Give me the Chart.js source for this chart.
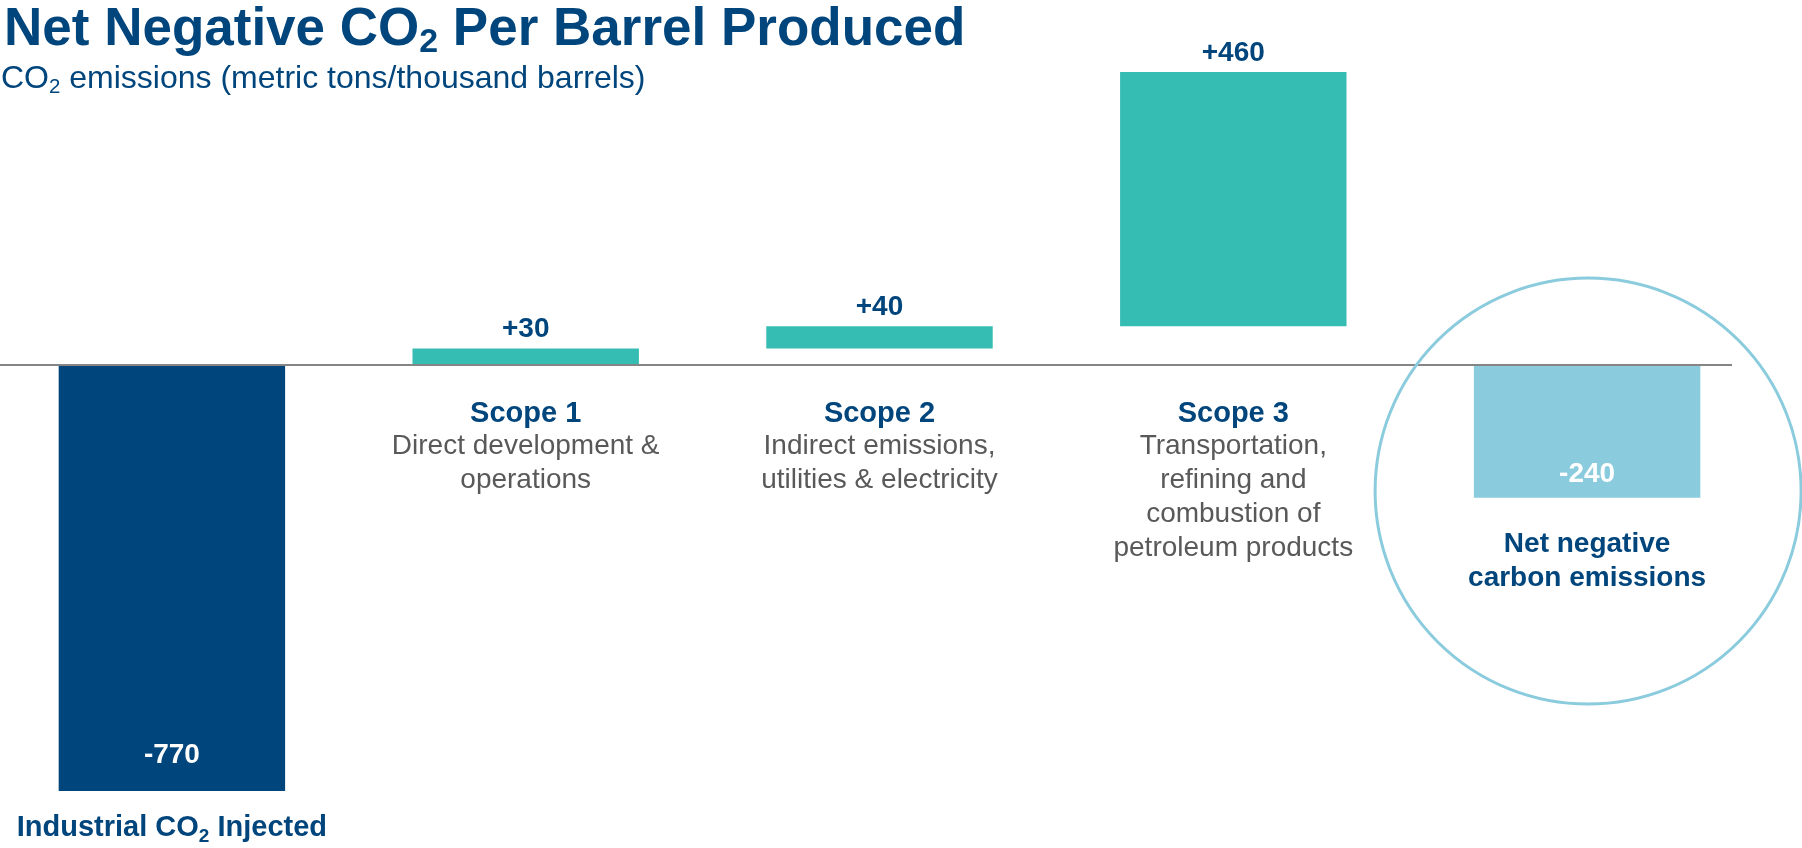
<!DOCTYPE html>
<html>
<head>
<meta charset="utf-8">
<script src="https://cdn.jsdelivr.net/npm/chart.js@4"></script>
<style>
  html, body { margin: 0; padding: 0; background: #fff; width: 1802px; height: 848px; overflow: hidden; position: relative; font-family: "Liberation Sans", Arial, sans-serif; }
  #title { position: absolute; left: 4px; top: 0; font-size: 53px; font-weight: bold; color: #00457c; line-height: 1; white-space: nowrap; }
  #subtitle { position: absolute; left: 1px; top: 61px; font-size: 32px; color: #00457c; line-height: 1; white-space: nowrap; }
  sub { font-size: 64%; vertical-align: -0.22em; line-height: 0; }
  #chart { position: absolute; left: -5px; top: 0; }
</style>
</head>
<body>
<canvas id="chart" width="1807" height="848"></canvas>
<div id="title">Net Negative CO<sub>2</sub> Per Barrel Produced</div>
<div id="subtitle">CO<sub>2</sub> emissions (metric tons/thousand barrels)</div>
<script>
const categories = ["Industrial CO₂ Injected", "Scope 1", "Scope 2", "Scope 3", "Net negative\ncarbon emissions"];
const changes = [-770, 30, 40, 460, -240];
const barStarts = [0, 0, 30, 70, 0];
const valueLabels = ["-770", "+30", "+40", "+460", "-240"];
const descriptions = [
  [],
  ["Direct development &", "operations"],
  ["Indirect emissions,", "utilities & electricity"],
  ["Transportation,", "refining and", "combustion of", "petroleum products"],
  []
];
const barColors = ["#00457c", "#36bdb3", "#36bdb3", "#36bdb3", "#8acbdd"];

const DARK = "#00457c";
const GREY = "#595959";
const FONT = '"Liberation Sans", Arial, sans-serif';

// draw text centred at x, with "₂" rendered as a real subscript
function drawRich(ctx, text, x, y, size) {
  const parts = text.split("₂");
  const subSize = Math.round(size * 0.66);
  const widths = parts.map(p => { ctx.font = "bold " + size + "px " + FONT; return ctx.measureText(p).width; });
  ctx.font = "bold " + subSize + "px " + FONT;
  const subW = ctx.measureText("2").width;
  const total = widths.reduce((a, b) => a + b, 0) + subW * (parts.length - 1);
  let cx = x - total / 2;
  ctx.textAlign = "left";
  parts.forEach((p, i) => {
    ctx.font = "bold " + size + "px " + FONT;
    ctx.fillText(p, cx, y);
    cx += widths[i];
    if (i < parts.length - 1) {
      ctx.font = "bold " + subSize + "px " + FONT;
      ctx.fillText("2", cx, y + 6);
      cx += subW;
    }
  });
}

const labelPlugin = {
  id: "labels",
  afterDatasetsDraw(chart) {
    const ctx = chart.ctx;
    const xs = chart.scales.x;
    const ys = chart.scales.y;
    const zeroY = ys.getPixelForValue(0);
    const area = chart.chartArea;

    // zero line
    ctx.save();
    ctx.strokeStyle = "#858585";
    ctx.lineWidth = 2;
    ctx.beginPath();
    ctx.moveTo(area.left, zeroY);
    ctx.lineTo(area.right - 32, zeroY);
    ctx.stroke();

    // highlight circle round the net bar
    ctx.strokeStyle = "#8acbdd";
    ctx.lineWidth = 3;
    ctx.beginPath();
    ctx.arc(xs.getPixelForValue(4) + 1, zeroY + 126, 213, 0, Math.PI * 2);
    ctx.stroke();

    const meta = chart.getDatasetMeta(0);
    const insideOffset = [28, 16, 16, 16, 16];
    const nameOffset = [45, 57, 57, 57, 54];
    const nameSize = [29, 29, 29, 29, 28];
    meta.data.forEach((bar, i) => {
      const x = bar.x;
      const top = Math.min(bar.y, bar.base);
      const bottom = Math.max(bar.y, bar.base);
      ctx.textAlign = "center";
      ctx.textBaseline = "alphabetic";
      ctx.font = "bold 28px " + FONT;
      if (changes[i] >= 0) {
        ctx.fillStyle = DARK;
        ctx.fillText(valueLabels[i], x, top - 11);
      } else {
        ctx.fillStyle = "#ffffff";
        ctx.fillText(valueLabels[i], x, bottom - insideOffset[i]);
      }

      // category name
      const nameY = (changes[i] >= 0 ? zeroY : bottom) + nameOffset[i];
      ctx.fillStyle = DARK;
      const lines = categories[i].split("\n");
      lines.forEach((ln, k) => drawRich(ctx, ln, x, nameY + k * 34, nameSize[i]));

      // description lines
      ctx.fillStyle = GREY;
      ctx.font = "28px " + FONT;
      ctx.textAlign = "center";
      descriptions[i].forEach((ln, k) => ctx.fillText(ln, x, zeroY + 89 + k * 34));
    });
    ctx.restore();
  }
};

const ctx = document.getElementById("chart").getContext("2d");
new Chart(ctx, {
  type: "bar",
  data: {
    labels: categories,
    datasets: [{
      data: categories.map((c, i) => [barStarts[i], barStarts[i] + changes[i]]),
      backgroundColor: barColors,
      borderWidth: 0,
      borderSkipped: false,
      barPercentage: 0.64,
      categoryPercentage: 1
    }]
  },
  options: {
    responsive: false,
    animation: false,
    devicePixelRatio: 1,
    layout: { padding: { left: 0, right: 38, top: 0, bottom: 0 } },
    scales: {
      x: { display: false },
      y: { display: false, min: -873, max: 660 }
    },
    plugins: {
      legend: { display: false },
      tooltip: { enabled: false }
    }
  },
  plugins: [labelPlugin]
});
</script>
</body>
</html>
